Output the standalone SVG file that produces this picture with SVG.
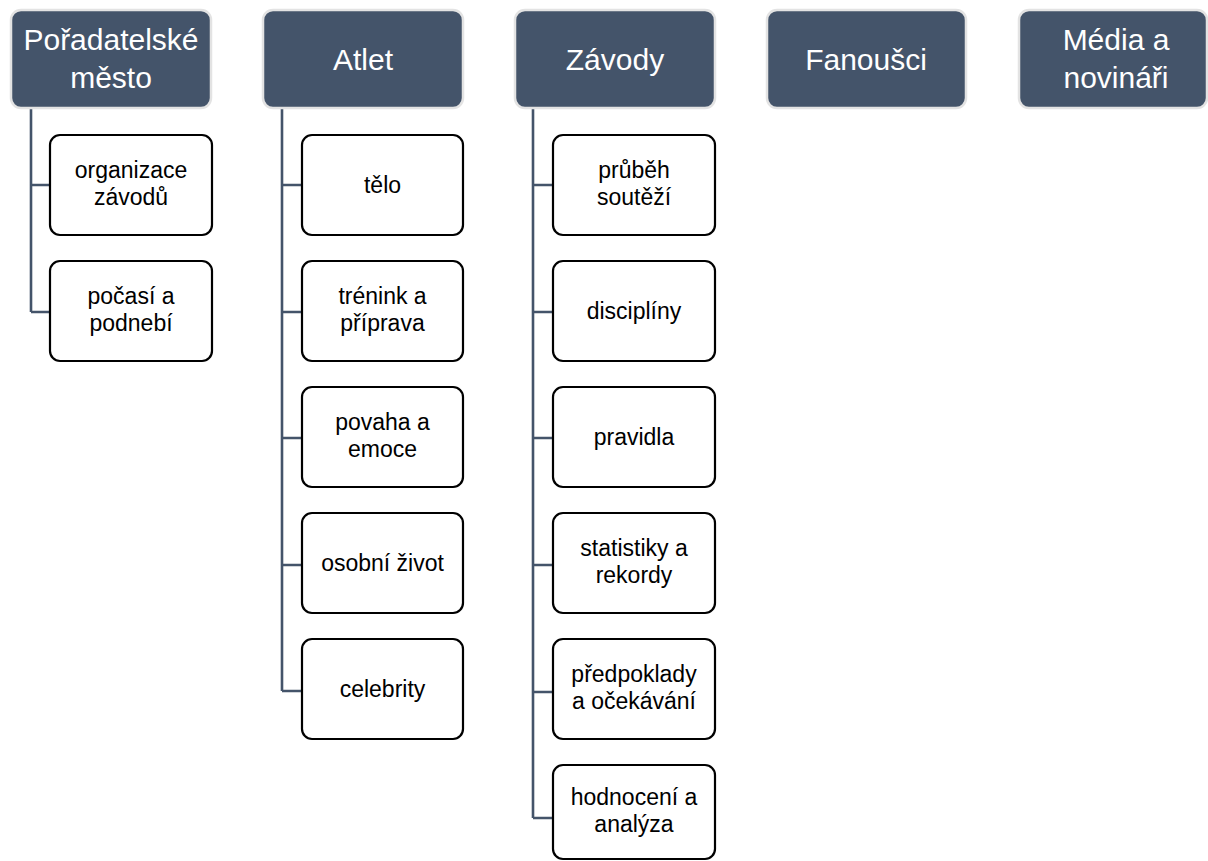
<svg xmlns="http://www.w3.org/2000/svg" width="1208" height="861" viewBox="0 0 1208 861">
<style>
.hdr{fill:#44546a;stroke:#e3e3e3;stroke-width:2.5}
.hdrt{font-family:"Liberation Sans",Arial,sans-serif;font-size:30px;fill:#ffffff;text-anchor:middle}
.ch{fill:#ffffff;stroke:#000000;stroke-width:2.2}
.cht{font-family:"Liberation Sans",Arial,sans-serif;font-size:23px;fill:#000000;text-anchor:middle}
.con{fill:none;stroke:#44546a;stroke-width:2.6}
</style>
<rect width="1208" height="861" fill="#ffffff"/>
<g id="connectors">
<path class="con" d="M31,108 V312 M31,185 H50 M31,312 H50"/>
<path class="con" d="M282,108 V691 M282,185 H302 M282,312 H302 M282,438 H302 M282,565 H302 M282,691 H302"/>
<path class="con" d="M533,108 V818 M533,185 H553 M533,312 H553 M533,438 H553 M533,565 H553 M533,692 H553 M533,818 H553"/>
</g>
<g id="h1"><rect class="hdr" x="11" y="10" width="200" height="98" rx="10"/><text class="hdrt" x="111" y="50">Pořadatelské</text><text class="hdrt" x="111" y="88">město</text></g>
<g id="h2"><rect class="hdr" x="263" y="10" width="200" height="98" rx="10"/><text class="hdrt" x="363" y="70">Atlet</text></g>
<g id="h3"><rect class="hdr" x="515" y="10" width="200" height="98" rx="10"/><text class="hdrt" x="615" y="70">Závody</text></g>
<g id="h4"><rect class="hdr" x="767" y="10" width="199" height="98" rx="10"/><text class="hdrt" x="866" y="70">Fanoušci</text></g>
<g id="h5"><rect class="hdr" x="1019" y="10" width="188" height="98" rx="10"/><text class="hdrt" x="1116" y="50">Média a</text><text class="hdrt" x="1116" y="88">novináři</text></g>

<g id="c1a"><rect class="ch" x="50" y="135" width="162" height="100" rx="10"/><text class="cht" x="131" y="178">organizace</text><text class="cht" x="131" y="205">závodů</text></g>
<g id="c1b"><rect class="ch" x="50" y="261" width="162" height="100" rx="10"/><text class="cht" x="131" y="304">počasí a</text><text class="cht" x="131" y="331">podnebí</text></g>

<g id="c2a"><rect class="ch" x="302" y="135" width="161" height="100" rx="10"/><text class="cht" x="382.5" y="193">tělo</text></g>
<g id="c2b"><rect class="ch" x="302" y="261" width="161" height="100" rx="10"/><text class="cht" x="382.5" y="304">trénink a</text><text class="cht" x="382.5" y="331">příprava</text></g>
<g id="c2c"><rect class="ch" x="302" y="387" width="161" height="100" rx="10"/><text class="cht" x="382.5" y="430">povaha a</text><text class="cht" x="382.5" y="457">emoce</text></g>
<g id="c2d"><rect class="ch" x="302" y="513" width="161" height="100" rx="10"/><text class="cht" x="382.5" y="571">osobní život</text></g>
<g id="c2e"><rect class="ch" x="302" y="639" width="161" height="100" rx="10"/><text class="cht" x="382.5" y="697">celebrity</text></g>

<g id="c3a"><rect class="ch" x="553" y="135" width="162" height="100" rx="10"/><text class="cht" x="634" y="178">průběh</text><text class="cht" x="634" y="205">soutěží</text></g>
<g id="c3b"><rect class="ch" x="553" y="261" width="162" height="100" rx="10"/><text class="cht" x="634" y="319">disciplíny</text></g>
<g id="c3c"><rect class="ch" x="553" y="387" width="162" height="100" rx="10"/><text class="cht" x="634" y="445">pravidla</text></g>
<g id="c3d"><rect class="ch" x="553" y="513" width="162" height="100" rx="10"/><text class="cht" x="634" y="556">statistiky a</text><text class="cht" x="634" y="583">rekordy</text></g>
<g id="c3e"><rect class="ch" x="553" y="639" width="162" height="100" rx="10"/><text class="cht" x="634" y="682">předpoklady</text><text class="cht" x="634" y="709">a očekávání</text></g>
<g id="c3f"><rect class="ch" x="553" y="765" width="162" height="94" rx="10"/><text class="cht" x="634" y="805">hodnocení a</text><text class="cht" x="634" y="832">analýza</text></g>
</svg>
